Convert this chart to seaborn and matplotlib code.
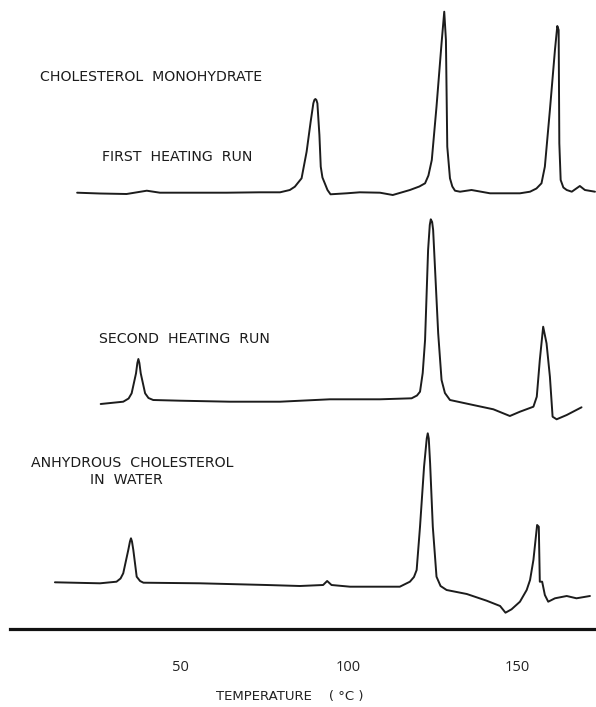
import matplotlib
matplotlib.use("Agg")
import matplotlib.pyplot as plt
import seaborn as sns
import pandas as pd

# --- DSC thermograms: temperature (deg C) and heat-flow signal (arbitrary units) ---
first_temp = [19.3, 26.1, 34.0, 40.0, 43.9, 63.7, 73.6, 79.6, 82.5, 84.0, 86.0, 87.5,
              88.7, 89.5, 89.8, 90.1, 90.4, 90.7, 91.3, 91.7, 92.2, 92.9, 93.7, 94.6,
              99.4, 103.3, 109.3, 113.1, 118.2, 121.0, 122.7, 123.7, 124.7, 126.1, 127.6,
              128.4, 128.9, 129.3, 130.1, 130.8, 131.6, 133.1, 136.5, 142.0, 150.9, 153.9,
              155.8, 157.3, 158.3, 159.8, 161.3, 162.0, 162.4, 162.6, 163.0, 163.8, 164.8,
              166.3, 168.7, 170.2, 173.2]
first_signal = [-0.2, -1.0, -1.5, 1.8, -0.2, -0.2, 0.2, 0.2, 2.5, 5.8, 14.2, 40.8,
                70.8, 89.2, 92.5, 93.5, 92.5, 89.2, 57.5, 25.8, 15.0, 9.2, 2.5, -1.8,
                -0.8, 0.2, -0.2, -2.5, 2.5, 6.0, 9.2, 17.0, 32.5, 85.8, 149.2,
                180.8, 152.5, 45.8, 14.2, 6.0, 1.8, 0.8, 2.5, -0.8, -0.8, 0.8,
                4.0, 9.2, 25.8, 82.5, 142.5, 166.5, 162.5, 49.2, 12.5, 5.0, 2.5,
                0.8, 6.5, 2.5, 0.8]

second_temp = [26.3, 33.0, 34.6, 35.5, 36.8, 37.2, 37.5, 37.8, 38.2, 39.5, 40.5, 41.9,
               49.9, 64.7, 79.6, 94.4, 109.3, 118.7, 120.3, 121.2, 122.0, 122.7, 123.6,
               124.1, 124.4, 124.8, 125.1, 126.6, 127.6, 128.6, 130.1, 137.0, 143.0, 147.9,
               150.9, 154.9, 155.9, 156.8, 157.8, 158.8, 159.8, 160.6, 161.8, 164.8, 169.2]
second_signal = [-3.0, -0.7, 2.5, 7.7, 27.7, 38.0, 42.0, 38.0, 27.7, 7.7, 3.0, 1.0,
                 0.3, -0.7, -0.7, 1.7, 1.7, 2.7, 5.5, 9.3, 28.0, 61.0, 151.0,
                 176.0, 181.7, 179.0, 171.0, 67.7, 21.0, 8.0, 1.0, -4.0, -8.3, -15.0,
                 -10.7, -5.7, 4.3, 41.0, 74.3, 57.7, 24.3, -15.7, -18.3, -14.0, -6.3]

anhydrous_temp = [12.7, 26.1, 31.0, 32.2, 33.0, 34.5, 35.0, 35.3, 35.6, 36.0, 37.0,
                  38.0, 39.0, 55.8, 75.6, 85.5, 92.4, 93.6, 94.9, 100.4, 115.2, 118.2,
                  119.4, 120.2, 121.2, 122.4, 123.2, 123.5, 123.8, 124.2, 125.0, 126.1,
                  127.3, 129.1, 135.1, 141.0, 145.0, 146.6, 148.4, 150.9, 152.9, 153.9,
                  154.9, 156.0, 156.5, 156.8, 157.5, 158.3, 159.3, 161.3, 164.8, 167.7,
                  171.7]
anhydrous_signal = [1.2, 0.2, 1.8, 5.0, 10.2, 33.5, 42.0, 45.2, 42.0, 33.5, 6.8,
                    2.5, 0.8, 0.2, -1.5, -2.5, -1.5, 2.5, -1.5, -3.2, -3.2, 1.8,
                    6.5, 13.5, 56.8, 116.8, 145.0, 150.2, 145.0, 120.2, 56.8, 6.8,
                    -2.5, -6.5, -10.5, -17.2, -22.5, -29.2, -25.8, -18.2, -6.5, 3.5,
                    23.5, 58.5, 56.8, 1.8, 1.8, -11.5, -18.2, -14.8, -12.5, -14.8,
                    -12.5]

tick_values = [50, 100, 150]
tick_labels = ["50", "100", "150"]

# vertical stacking of the three runs on the chart
offsets = {"first": 436.5, "second": 228.0, "anhydrous": 45.5}

frames = []
for name, t, s in [("first", first_temp, first_signal),
                   ("second", second_temp, second_signal),
                   ("anhydrous", anhydrous_temp, anhydrous_signal)]:
    df = pd.DataFrame({"temperature": t, "signal": s})
    df["run"] = name
    df["trace"] = df["signal"] + offsets[name]
    frames.append(df)
data = pd.concat(frames, ignore_index=True)

sns.set_style("white")
plt.rcParams["font.family"] = ["DejaVu Sans"]

W, H = 596, 707
fig = plt.figure(figsize=(W / 100, H / 100), dpi=100)
ax_left, ax_bottom = 9.5, 629
ax = fig.add_axes([ax_left / W, (H - ax_bottom) / H, (W - ax_left) / W, ax_bottom / H])

for name in ["first", "second", "anhydrous"]:
    sns.lineplot(data=data[data["run"] == name], x="temperature", y="trace",
                 ax=ax, color="#1c1c1c", linewidth=1.4, estimator=None, sort=False)

ax.set_xlim(-0.8, 173.5)
ax.set_ylim(0, 629)

for side in ["left", "right", "top"]:
    ax.spines[side].set_visible(False)
ax.spines["bottom"].set_linewidth(2.3)
ax.spines["bottom"].set_color("#111111")
ax.set_yticks([])
ax.set_ylabel("")
ax.set_xticks(tick_values)
ax.set_xticklabels(tick_labels, fontsize=10.5, family=["Open Sans", "DejaVu Sans"], color="#222222")
ax.tick_params(axis="x", direction="out", length=10, width=2.2, color="#111111", pad=12)

ax.set_xlabel("TEMPERATURE    ( °C )", fontsize=9.5, color="#222222")
ax.xaxis.set_label_coords(0.478, -0.108)
ax.xaxis.label.set_va("center")

label_kw = dict(fontsize=10.2, color="#1c1c1c", va="center")
ax.text(8.3, 552, "CHOLESTEROL  MONOHYDRATE", ha="left", **label_kw)
ax.text(26.7, 472, "FIRST  HEATING  RUN", ha="left", **label_kw)
ax.text(25.8, 290, "SECOND  HEATING  RUN", ha="left", **label_kw)
ax.text(5.6, 166, "ANHYDROUS  CHOLESTEROL", ha="left", **label_kw)
ax.text(33.8, 149, "IN  WATER", ha="center", **label_kw)

fig.savefig("out.png", dpi=100, facecolor="white")
